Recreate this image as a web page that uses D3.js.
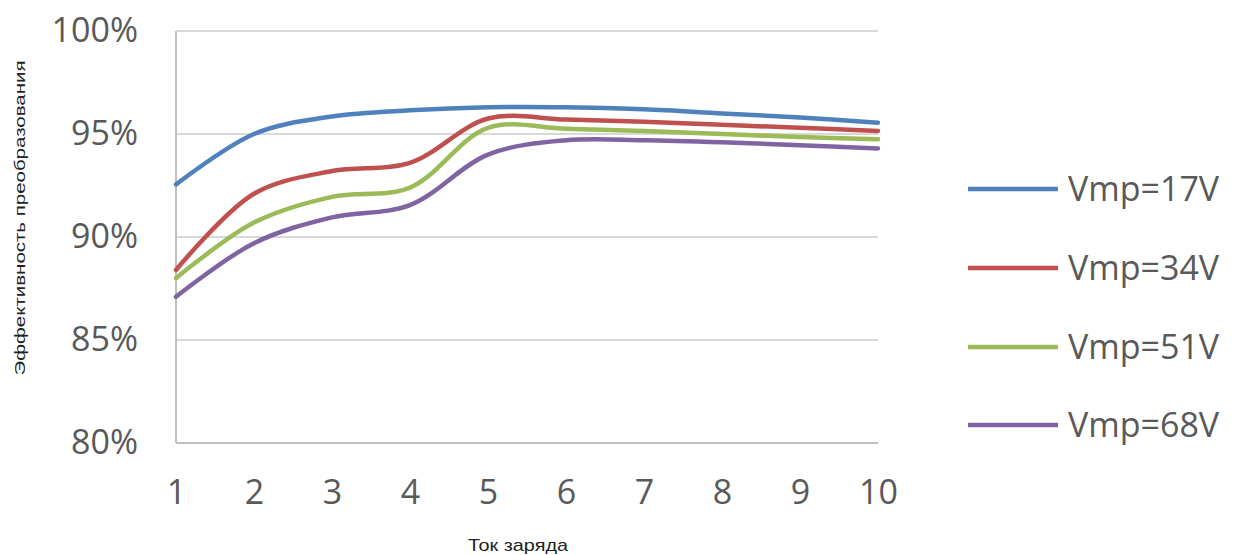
<!DOCTYPE html>
<html><head><meta charset="utf-8">
<script src="https://cdn.jsdelivr.net/npm/d3@7"></script>
<style>body{margin:0;background:#fff;} svg{display:block;}</style>
</head><body>
<svg id="c" width="1235" height="555"></svg>
<script>
const currents = [1,2,3,4,5,6,7,8,9,10];
const seriesNames = ["Vmp=17V","Vmp=34V","Vmp=51V","Vmp=68V"];
const v17 = [92.55,95.0,95.85,96.15,96.3,96.3,96.2,96.0,95.8,95.55];
const v34 = [88.4,92.1,93.2,93.6,95.75,95.7,95.6,95.45,95.3,95.15];
const v51 = [88.0,90.7,91.95,92.4,95.3,95.25,95.15,95.0,94.85,94.75];
const v68 = [87.1,89.7,90.95,91.55,94.0,94.7,94.7,94.6,94.45,94.3];
const yTicks = [80,85,90,95,100];
const colors = ["#4F81BD","#C0504D","#9BBB59","#8064A2"];
const allSeries = [v17,v34,v51,v68];

const svg = d3.select("#c");
const x = d3.scaleLinear().domain([1,10]).range([176,878]);
const y = d3.scaleLinear().domain([80,100]).range([443,31]);

// gridlines
svg.append("g").selectAll("line").data(yTicks.filter(d=>d>80)).join("line")
  .attr("x1",x(1)).attr("x2",x(10)).attr("y1",d=>y(d)).attr("y2",d=>y(d))
  .attr("stroke","#d9d9d9").attr("stroke-width",2);

// axes lines
svg.append("line").attr("x1",x(1)).attr("x2",x(1)).attr("y1",y(100)).attr("y2",y(80))
  .attr("stroke","#bfbfbf").attr("stroke-width",2);
svg.append("line").attr("x1",x(1)).attr("x2",x(10)).attr("y1",y(80)).attr("y2",y(80))
  .attr("stroke","#bfbfbf").attr("stroke-width",2);

// y tick labels
const yAxis = d3.axisLeft(y).tickValues(yTicks).tickFormat(d=>d+"%").tickSize(0).tickPadding(0);
const gy = svg.append("g").attr("transform","translate(138,0)").call(yAxis);
gy.select(".domain").remove();
gy.selectAll("text").attr("font-family","'Open Sans',sans-serif").attr("font-size",34).attr("fill","#595959");

// x tick labels
const xAxis = d3.axisBottom(x).tickValues(currents).tickFormat(d3.format("d")).tickSize(0).tickPadding(0);
const gx = svg.append("g").attr("transform","translate(0,480)").call(xAxis);
gx.select(".domain").remove();
gx.selectAll("text").attr("font-family","'Open Sans',sans-serif").attr("font-size",34).attr("fill","#595959");

// lines
const line = d3.line().x((d,i)=>x(currents[i])).y(d=>y(d)).curve(d3.curveCatmullRom.alpha(0.5));
svg.append("g").selectAll("path").data(allSeries).join("path")
  .attr("d",line).attr("fill","none").attr("stroke",(d,i)=>colors[i])
  .attr("stroke-width",4.5).attr("stroke-linejoin","round").attr("stroke-linecap","round");

// legend
const legY = [189,268,347,425];
const lg = svg.append("g").selectAll("g").data(seriesNames).join("g")
  .attr("transform",(d,i)=>`translate(0,${legY[i]})`);
lg.append("line").attr("x1",968).attr("x2",1058).attr("y1",0).attr("y2",0)
  .attr("stroke",(d,i)=>colors[i]).attr("stroke-width",4.5);
lg.append("text").attr("x",1068).attr("y",0).attr("dy","0.36em").text(d=>d)
  .attr("font-family","'Open Sans',sans-serif").attr("font-size",34).attr("fill","#595959");

// axis titles
svg.append("text").attr("transform","translate(20,218) rotate(-90)").attr("text-anchor","middle")
  .attr("dy","0.35em").attr("textLength",315).attr("lengthAdjust","spacingAndGlyphs")
  .text("Эффективность преобразования")
  .attr("font-family","'Liberation Sans',Arial,sans-serif").attr("font-size",15).attr("fill","#222");
svg.append("text").attr("x",518).attr("y",545).attr("text-anchor","middle").attr("dy","0.35em")
  .attr("textLength",100).attr("lengthAdjust","spacingAndGlyphs")
  .text("Ток заряда").attr("font-family","'Liberation Sans',Arial,sans-serif").attr("font-size",17).attr("fill","#222");
</script>
</body></html>
